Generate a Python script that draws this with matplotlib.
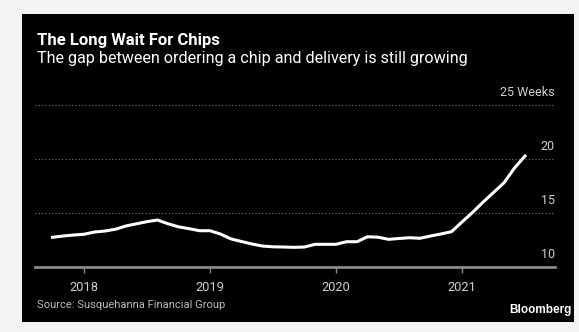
import matplotlib
matplotlib.use("Agg")
import matplotlib.pyplot as plt
from matplotlib.patches import Rectangle
import numpy as np

# monthly lead times (weeks), Oct 2017 - Jul 2021
months = [2017 + (m - 1) / 12 for m in range(10, 13)] + \
         [y + (m - 1) / 12 for y in range(2018, 2021) for m in range(1, 13)] + \
         [2021 + (m - 1) / 12 for m in range(1, 8)]
weeks = [12.75, 12.87, 12.96,
         13.03, 13.24, 13.33, 13.5, 13.8, 14.0, 14.2, 14.35, 14.0, 13.72, 13.55, 13.36,
         13.36, 13.05, 12.6, 12.36, 12.13, 11.94, 11.87, 11.85, 11.82, 11.85, 12.1, 12.1,
         12.1, 12.34, 12.34, 12.8, 12.76, 12.56, 12.64, 12.71, 12.66, 12.87, 13.06, 13.27,
         14.17, 15.05, 16.0, 16.9, 17.8, 19.17, 20.28]
years = [2018, 2019, 2020, 2021]
yticks = [10, 15, 20, 25]
ylabels = ["10", "15", "20", "25 Weeks"]

plt.rcParams["font.family"] = ["Roboto", "DejaVu Sans"]

fig = plt.figure(figsize=(5.79, 3.32), dpi=100, facecolor="#f3f3f3")
fig.patches.append(Rectangle((22 / 579, 1 - 322 / 332), 552 / 579, 308 / 332,
                             transform=fig.transFigure, facecolor="black",
                             edgecolor="none", zorder=0))

ax = fig.add_axes([35 / 579, 65 / 332, 520 / 579, 173 / 332])
ax.set_zorder(2)
ax.set_facecolor("none")
ax.plot(months, weeks, color="white", lw=2.2, solid_joinstyle="round", zorder=3)

ax.set_xlim(2017.611, 2021.738)
ax.set_ylim(10, 26.02)

for v in yticks[1:]:
    ax.axhline(v, color="#777777", lw=0.8, ls=(0, (1, 2)), zorder=1)
for v, lab in zip(yticks, ylabels):
    ax.annotate(lab, xy=(1, v), xycoords=("axes fraction", "data"),
                xytext=(0, 4), textcoords="offset points",
                ha="right", va="bottom", color="#d0d0d0", fontsize=9)

for s in ["top", "right", "left"]:
    ax.spines[s].set_visible(False)
ax.spines["bottom"].set_color("#8a8a8a")
ax.spines["bottom"].set_linewidth(2)
ax.set_yticks([])
ax.set_xticks(years)
ax.set_xticklabels([str(y) for y in years])
ax.tick_params(axis="x", colors="#8a8a8a", length=4, width=1, pad=6,
               labelcolor="#d0d0d0", labelsize=9.3)

fig.text(37 / 579, 1 - 41 / 332, "The Long Wait For Chips", color="white",
         fontsize=12, fontweight="bold", va="center", ha="left")
fig.text(37 / 579, 1 - 59 / 332,
         "The gap between ordering a chip and delivery is still growing",
         color="white", fontsize=11.6, va="center", ha="left")
fig.text(37 / 579, 1 - 305 / 332, "Source: Susquehanna Financial Group",
         color="#bbbbbb", fontsize=8, va="center", ha="left")
fig.text(572 / 579, 1 - 310 / 332, "Bloomberg", color="white", fontsize=8.5,
         fontweight="bold", va="center", ha="right",
         family=["Liberation Sans", "DejaVu Sans"])

fig.savefig("out.png", dpi=100, facecolor=fig.get_facecolor())
